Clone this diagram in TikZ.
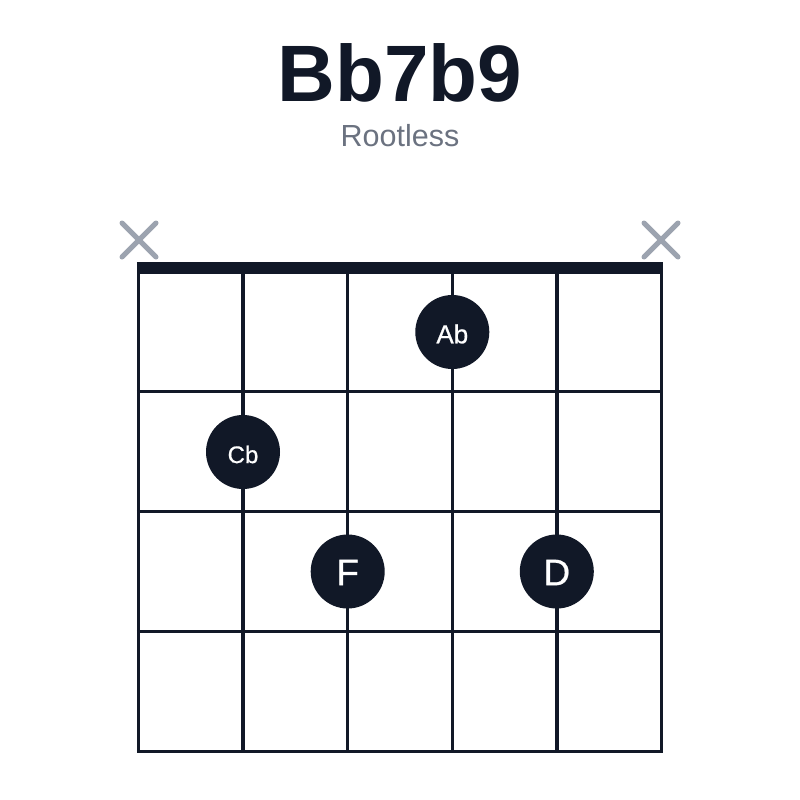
\documentclass[tikz,border=0pt]{standalone}
\usepackage{fontspec}
\usetikzlibrary{calc}
\setmainfont{Liberation Sans}
\newfontfamily\medfont[FakeBold=0.6]{Liberation Sans}
\definecolor{ink}{HTML}{111827}
\definecolor{subgray}{HTML}{6B7280}
\definecolor{xgray}{HTML}{9CA3AF}
\begin{document}
\begin{tikzpicture}[x=1pt,y=-1pt,
  gridline/.style={draw=ink,line width=3.5pt},
  nutline/.style={draw=ink,line width=12pt},
  xmark/.style={draw=xgray,line width=5pt,line cap=round},
  notedot/.style={circle,fill=ink,minimum size=74pt,inner sep=0pt},
  notelabel/.style={text=white,inner sep=0pt},
  ]
\useasboundingbox[fill=white] (0,0) rectangle (800,800);
% title
\node[anchor=base,text=ink,font=\fontsize{80}{80}\selectfont\bfseries] (title) at (400,101) {Bb7b9};
\node[anchor=base,text=subgray,font=\fontsize{30.5}{30.5}\selectfont] (sub) at (400,146) {Rootless};
% strings
\foreach \i/\x in {1/138.5,2/243,3/347.7,4/452.3,5/556.8,6/661.5}{
  \coordinate (s\i t) at (\x,268);
  \coordinate (s\i b) at (\x,751.5);
  \draw[gridline] (s\i t) -- (s\i b);
}
% frets
\foreach \j/\y in {1/391.5,2/511.5,3/631.5,4/751.5}{
  \coordinate (f\j l) at (136.75,\y);
  \coordinate (f\j r) at (663.25,\y);
  \draw[gridline] (f\j l) -- (f\j r);
}
% nut
\coordinate (nl) at (136.75,268);
\coordinate (nr) at (663.25,268);
\draw[nutline] (nl) -- (nr);
% muted strings
\coordinate (xa) at (139,240);
\coordinate (xb) at (661,240);
\draw[xmark] ($(xa)+(-17,-17)$) -- ($(xa)+(17,17)$) ($(xa)+(-17,17)$) -- ($(xa)+(17,-17)$);
\draw[xmark] ($(xb)+(-17,-17)$) -- ($(xb)+(17,17)$) ($(xb)+(-17,17)$) -- ($(xb)+(17,-17)$);
% notes
\node[notedot] (ab) at (452.3,332) {};
\node[notedot] (cb) at (243,452) {};
\node[notedot] (f) at (347.7,571.5) {};
\node[notedot] (d) at (556.8,571.5) {};
\node[notelabel,font=\medfont\fontsize{26}{26}\selectfont] (abl) at ($(ab)+(0,2)$) {Ab};
\node[notelabel,font=\medfont\fontsize{24}{24}\selectfont] (cbl) at ($(cb)+(0,2.5)$) {Cb};
\node[notelabel,font=\medfont\fontsize{37}{37}\selectfont] (fl) at ($(f)+(0,1)$) {F};
\node[notelabel,font=\medfont\fontsize{37}{37}\selectfont] (dl) at ($(d)+(0,1)$) {D};
\end{tikzpicture}
\end{document}
